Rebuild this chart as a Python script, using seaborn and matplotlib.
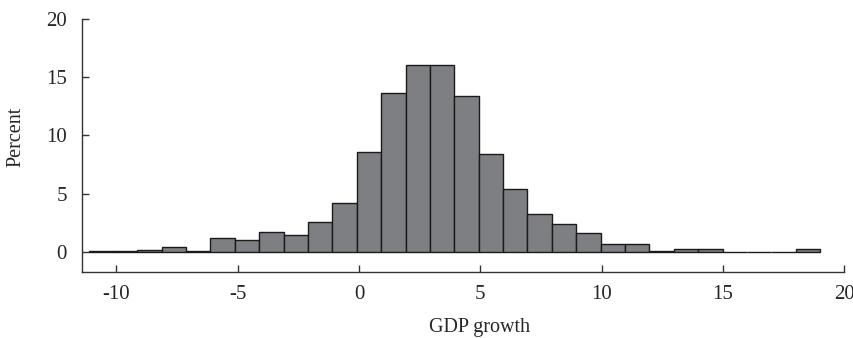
import matplotlib
matplotlib.use('Agg')
import matplotlib.pyplot as plt
import seaborn as sns
import numpy as np
import pandas as pd

# histogram bins (width ~1 point of GDP growth), heights in percent
bin_start = -11.15
bin_width = 1.005
percent = [0.1, 0.1, 0.12, 0.38, 0.05, 1.15, 0.98, 1.67, 1.44, 2.55,
           4.19, 8.6, 13.67, 16.08, 16.08, 13.36, 8.4, 5.39, 3.21, 2.38,
           1.58, 0.66, 0.66, 0.05, 0.2, 0.2, 0.0, 0.0, 0.0, 0.2]
x_ticks = [-10, -5, 0, 5, 10, 15, 20]
y_ticks = [0, 5, 10, 15, 20]

n_bins = len(percent)
edges = bin_start + bin_width * np.arange(n_bins + 1)
centers = (edges[:-1] + edges[1:]) / 2
df = pd.DataFrame({'growth': centers, 'percent': percent})

sns.set_style('white')
plt.rcParams['font.family'] = ['Liberation Serif', 'DejaVu Serif']

fig = plt.figure(figsize=(8.54, 3.38), dpi=100)
ax = fig.add_axes([82 / 854, 1 - 272.3 / 338, (844.3 - 82) / 854, (272.3 - 19) / 338])

sns.histplot(data=df, x='growth', weights='percent', bins=list(edges), stat='count',
             color='#7e7f83', alpha=1, edgecolor='#1a1a1a', linewidth=1.0, ax=ax)

ax.set_xlim(-11.42, 20)
ax.set_ylim(-1.77, 20)
ax.set_xticks(x_ticks)
ax.set_yticks(y_ticks)
ax.set_xticklabels([str(t) for t in x_ticks])
ax.set_yticklabels([str(t) for t in y_ticks])

for side in ['top', 'right']:
    ax.spines[side].set_visible(False)
for side in ['left', 'bottom']:
    ax.spines[side].set_color('#333333')
    ax.spines[side].set_linewidth(1.0)

ax.tick_params(axis='x', bottom=True, direction='in', length=5, width=1,
               color='#333333', labelsize=15, pad=9)
ax.tick_params(axis='y', left=True, direction='in', length=5, width=1,
               color='#333333', labelsize=15, pad=11)

ax.set_xlabel('GDP growth', fontsize=14.5)
ax.set_ylabel('Percent', fontsize=14.5)
ax.xaxis.set_label_coords(0.521, -0.18)
ax.yaxis.set_label_coords(-0.074, 0.536)

fig.savefig('out.png', dpi=100)
